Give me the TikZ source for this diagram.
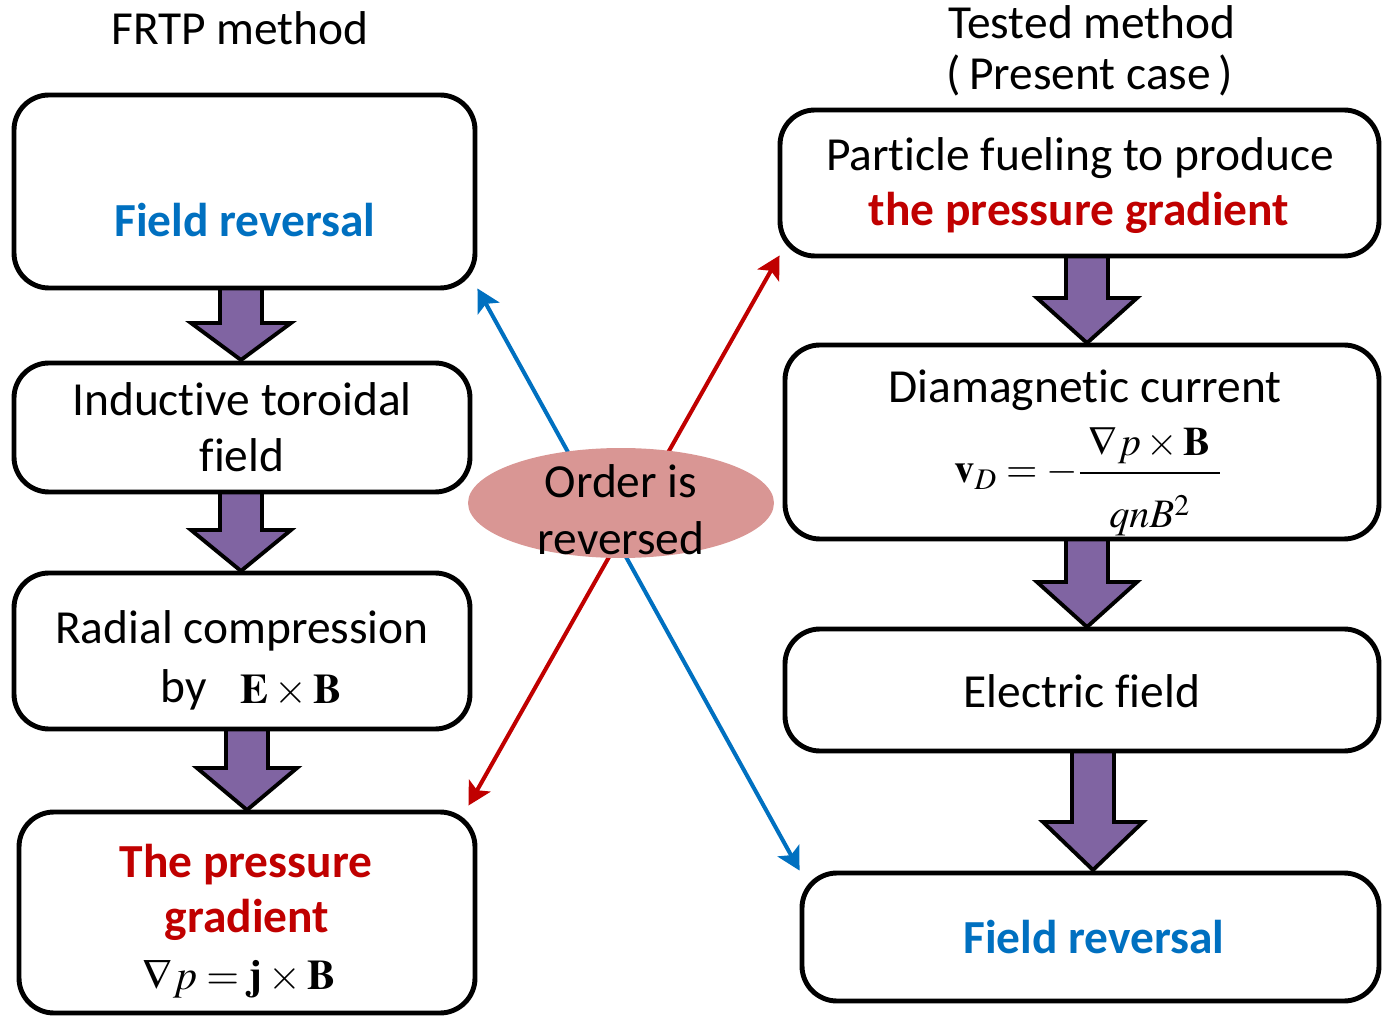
\documentclass[tikz,border=0pt]{standalone}
\usepackage{mathptmx}
\usepackage[no-math]{fontspec}
\setmainfont{Carlito}[Ligatures={NoCommon}]
\usetikzlibrary{arrows.meta,calc,backgrounds,shapes.geometric}

\definecolor{revblue}{HTML}{0070C0}
\definecolor{gradred}{HTML}{C00000}
\definecolor{flowpurple}{HTML}{8064A2}
\definecolor{ovalpink}{HTML}{D99694}

% rounded flow box given by its corner coordinates (x1,y1) -- (x2,y2)
\newcommand\flowbox[5]{%
  \node[flowframe, minimum width={(#4-#2)*0.02cm}, minimum height={(#5-#3)*0.02cm}]
    (#1) at ({(#2+#4)/2},{(#3+#5)/2}) {};}
% thick downward block arrow: centre x, top, neck, tip, half head width
\newcommand\fatdown[5]{%
  \draw[fatarrow] ({#1-21},#2) -- ({#1-21},#3) -- ({#1-#5},#3) -- (#1,#4)
    -- ({#1+#5},#3) -- ({#1+21},#3) -- ({#1+21},#2) -- cycle;}
% plain letter pairs, no ligature
\newcommand\nl{\kern0pt }

\begin{document}
\begin{tikzpicture}[x=0.02cm, y=-0.02cm,
  flowframe/.style={draw=black, line width=2.8pt, rounded corners=0.7cm,
    fill=white, inner sep=0pt},
  fatarrow/.style={fill=flowpurple, draw=black, line width=2.2pt, miter limit=10},
  label/.style={font=\fontsize{27}{32}\selectfont, anchor=base, inner sep=0pt},
  keyword/.style={label, font=\fontsize{27}{32}\selectfont\bfseries},
  formula/.style={font=\fontsize{24}{28}\selectfont, anchor=base, inner sep=0pt},
  link/.style={line width=2.3pt, {Stealth[length=13pt,width=14pt,inset=3pt]}-{Stealth[length=13pt,width=14pt,inset=3pt]}}
]
\useasboundingbox (0,0) rectangle (1383,1016);

% titles
\node[label] (tl) at (240,45) {FRTP method};
\node[label] (tr1) at (1092,39) {Tested method};
\node[label] (tr2) at (1090,90) {(\,Present case\,)};

% FRTP sequence
\flowbox{B1}{14}{95}{475}{288}
\flowbox{B2}{14}{363}{470}{492}
\flowbox{B3}{14}{573}{470}{729}
\flowbox{B4}{19}{812}{475}{1013}

% tested sequence
\flowbox{R1}{780}{110}{1379}{256}
\flowbox{R2}{785}{345}{1379}{539}
\flowbox{R3}{785}{629}{1379}{751}
\flowbox{R4}{802}{873}{1379}{1001}

% box texts, left
\node[keyword, text=revblue] (b1t) at (245,237) {F\nl ield reversal};
\node[label] (b2t1) at (242,416) {Inductive toroidal};
\node[label] (b2t2) at (242,472) {f\nl ield};
\node[label] (b3t1) at (242,643) {Radial compression};
\node[label] (b3t2) at (184,702) {by};
\node[formula] (b3f) at (291,703) {$\mathbf{E}\times\mathbf{B}$};
\node[keyword, text=gradred] (b4t1) at (246,877) {The pressure};
\node[keyword, text=gradred] (b4t2) at (247,932) {gradient};
\node[formula] (b4f) at (239,989) {$\nabla p=\mathbf{j}\times\mathbf{B}$};

% box texts, right
\node[label] (r1t1) at (1080,171) {Part\nl icle fueling to produce};
\node[keyword, text=gradred] (r1t2) at (1079,226) {the pressure gradient};
\node[label] (r2t) at (1085,403) {Diamagnetic current};
\node[formula, font=\fontsize{23}{27}\selectfont] (r2f) at (1088,483)
  {$\mathbf{v}_D=-{\displaystyle\frac{\;\nabla p\times\mathbf{B}\;}{\rule{0pt}{1.2em}qnB^2}}$};
\node[label] (r3t) at (1082,707) {Electric f\nl ield};
\node[keyword, text=revblue] (r4t) at (1094,953) {F\nl ield reversal};

% central oval
\node[ellipse, fill=ovalpink, minimum width=6.12cm, minimum height=2.2cm,
  inner sep=0pt] (oval) at (621,503) {};
\node[label] (ov1) at (621,498) {Order is};
\node[label] (ov2) at (621,555) {reversed};

\begin{scope}[on background layer]
  % block arrows between steps
  \fatdown{241}{288}{323}{360}{50}
  \fatdown{241}{492}{530}{571}{50}
  \fatdown{247}{729}{768}{810}{50}
  \fatdown{1087}{256}{298}{343}{50}
  \fatdown{1087}{539}{582}{627}{50}
  \fatdown{1093}{751}{822}{870}{50}
  % crossed links passing under the oval
  \draw[link, revblue] ($(B1.south east)+(0,-2)$) -- (R4.north west);
  \draw[link, gradred] ($(B4.north east)+(-9,-4)$) -- ($(R1.south west)+(2,-3)$);
\end{scope}
\end{tikzpicture}
\end{document}
